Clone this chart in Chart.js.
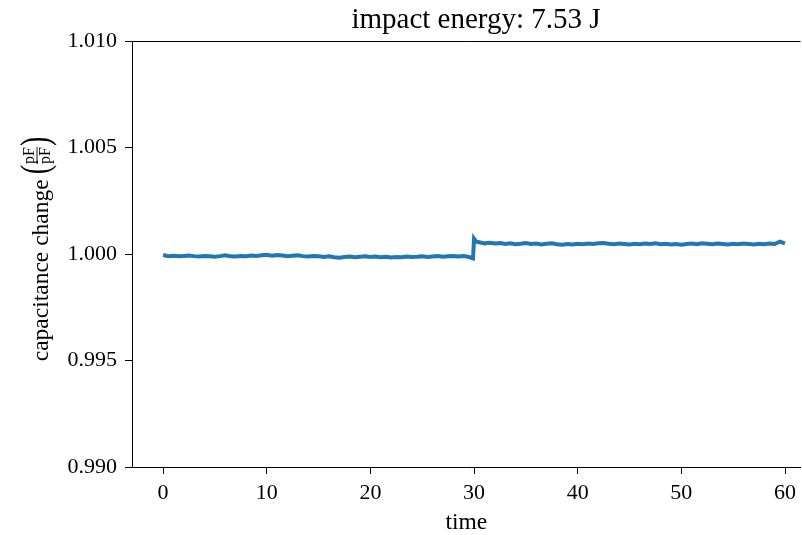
<!DOCTYPE html>
<html>
<head>
<meta charset="utf-8">
<script src="https://cdn.jsdelivr.net/npm/chart.js@4.4.1/dist/chart.umd.min.js"></script>
<style>
  html, body { margin: 0; padding: 0; background: #fff; }
  canvas { display: block; }
</style>
</head>
<body>
<canvas id="c" width="802" height="535"></canvas>
<script>
// ---- data ----
const chartTitle = 'impact energy: 7.53 J';
const xAxisLabel = 'time';
const yAxisLabel = 'capacitance change';
const yUnitNum = 'pF';
const yUnitDen = 'pF';

const times = [
  0, 0.5, 1, 1.5, 2, 2.5, 3, 3.5, 4, 4.5, 5, 5.5, 6, 6.5, 7, 7.5, 8, 8.5, 9, 9.5,
  10, 10.5, 11, 11.5, 12, 12.5, 13, 13.5, 14, 14.5, 15, 15.5, 16, 16.5, 17, 17.5, 18, 18.5, 19, 19.5,
  20, 20.5, 21, 21.5, 22, 22.5, 23, 23.5, 24, 24.5, 25, 25.5, 26, 26.5, 27, 27.5, 28, 28.5, 29, 29.5, 29.9,
  30.0, 30.2, 30.5, 31, 31.5, 32, 32.5, 33, 33.5, 34, 34.5, 35, 35.5, 36, 36.5, 37, 37.5, 38, 38.5, 39, 39.5,
  40, 40.5, 41, 41.5, 42, 42.5, 43, 43.5, 44, 44.5, 45, 45.5, 46, 46.5, 47, 47.5, 48, 48.5, 49, 49.5,
  50, 50.5, 51, 51.5, 52, 52.5, 53, 53.5, 54, 54.5, 55, 55.5, 56, 56.5, 57, 57.5, 58, 58.5, 59, 59.5, 60
];

const capacitance = [
  0.99995, 0.99990, 0.99992, 0.99989, 0.99991, 0.99993, 0.99990, 0.99988, 0.99991, 0.99989,
  0.99987, 0.99990, 0.99994, 0.99989, 0.99988, 0.99991, 0.99990, 0.99993, 0.99991, 0.99994,
  0.99996, 0.99992, 0.99995, 0.99993, 0.99990, 0.99992, 0.99994, 0.99990, 0.99988, 0.99991,
  0.99989, 0.99986, 0.99989, 0.99985, 0.99983, 0.99986, 0.99988, 0.99985, 0.99987, 0.99989,
  0.99986, 0.99988, 0.99985, 0.99987, 0.99984, 0.99986, 0.99985, 0.99988, 0.99986, 0.99987,
  0.99989, 0.99986, 0.99988, 0.99990, 0.99987, 0.99989, 0.99991, 0.99988, 0.99990, 0.99986, 0.99980,
  1.00072, 1.00058, 1.00055, 1.00050, 1.00053, 1.00049, 1.00051, 1.00047, 1.00050, 1.00046,
  1.00048, 1.00051, 1.00047, 1.00049, 1.00045, 1.00048, 1.00050, 1.00046, 1.00044, 1.00047, 1.00045,
  1.00048, 1.00046, 1.00049, 1.00047, 1.00050, 1.00052, 1.00048, 1.00046, 1.00049, 1.00047,
  1.00045, 1.00048, 1.00046, 1.00049, 1.00047, 1.00050, 1.00046, 1.00048, 1.00045, 1.00047,
  1.00044, 1.00047, 1.00049, 1.00046, 1.00050, 1.00048, 1.00046, 1.00049, 1.00047, 1.00045,
  1.00048, 1.00046, 1.00049, 1.00047, 1.00045, 1.00048, 1.00046, 1.00049, 1.00047, 1.00058, 1.00050
];

const xTicks = [0, 10, 20, 30, 40, 50, 60];
const yTicks = [0.990, 0.995, 1.000, 1.005, 1.010];

// ---- rendering ----
const FONT = '"Liberation Serif", "Times New Roman", serif';

const points = times.map((t, i) => ({ x: t, y: capacitance[i] }));

const bgPlugin = {
  id: 'bg',
  beforeDraw(chart) {
    const ctx = chart.ctx;
    ctx.save();
    ctx.fillStyle = '#fff';
    ctx.fillRect(0, 0, chart.width, chart.height);
    ctx.restore();
  }
};

const decorPlugin = {
  id: 'decor',
  afterDraw(chart) {
    const ctx = chart.ctx;
    const a = chart.chartArea;
    ctx.save();
    // top spine
    ctx.strokeStyle = '#000';
    ctx.lineWidth = 1;
    ctx.beginPath();
    const ty = Math.round(a.top) + 0.5;
    ctx.moveTo(a.left, ty);
    ctx.lineTo(a.right, ty);
    ctx.stroke();

    // title
    ctx.fillStyle = '#000';
    ctx.font = '29px ' + FONT;
    ctx.textAlign = 'center';
    ctx.textBaseline = 'alphabetic';
    ctx.fillText(chartTitle, 476, 28);

    // y-axis label with (pF/pF) fraction
    ctx.translate(48, 249);
    ctx.rotate(-Math.PI / 2);
    ctx.textAlign = 'left';
    ctx.font = '23.5px ' + FONT;
    const wMain = ctx.measureText(yAxisLabel).width;
    ctx.font = '16px ' + FONT;
    const wFrac = Math.max(ctx.measureText(yUnitNum).width, ctx.measureText(yUnitDen).width);
    ctx.font = '40px ' + FONT;
    const wParen = ctx.measureText('(').width * 0.7;
    const gap = 5;
    const total = wMain + gap + wParen * 2 + wFrac + 2;
    let x = -total / 2;
    ctx.font = '23.5px ' + FONT;
    ctx.fillText(yAxisLabel, x, 0);
    x += wMain + gap;
    ctx.save();
    ctx.translate(x, 0);
    ctx.scale(0.7, 1);
    ctx.font = '40px ' + FONT;
    ctx.fillText('(', 0, 0);
    ctx.restore();
    x += wParen + 1;
    ctx.font = '16px ' + FONT;
    ctx.textAlign = 'center';
    ctx.fillText(yUnitNum, x + wFrac / 2, -14.5);
    ctx.fillText(yUnitDen, x + wFrac / 2, 2);
    ctx.lineWidth = 0.9;
    ctx.beginPath();
    ctx.moveTo(x, -11);
    ctx.lineTo(x + wFrac, -11);
    ctx.stroke();
    x += wFrac + 1;
    ctx.textAlign = 'left';
    ctx.save();
    ctx.translate(x, 0);
    ctx.scale(0.7, 1);
    ctx.font = '40px ' + FONT;
    ctx.fillText(')', 0, 0);
    ctx.restore();
    ctx.restore();
  }
};

new Chart(document.getElementById('c'), {
  type: 'line',
  data: {
    datasets: [{
      data: points,
      borderColor: '#1f77b4',
      borderWidth: 4,
      pointRadius: 0,
      tension: 0,
      fill: false
    }]
  },
  options: {
    responsive: false,
    animation: false,
    devicePixelRatio: 1,
    layout: { padding: { top: 41, right: 0, left: 0, bottom: 0 } },
    plugins: {
      legend: { display: false },
      tooltip: { enabled: false },
      title: { display: false }
    },
    scales: {
      x: {
        type: 'linear',
        min: -3,
        max: 61.5,
        afterBuildTicks: s => { s.ticks = xTicks.map(v => ({ value: v })); },
        afterFit: s => { s.height = 68; },
        grid: { display: true, drawOnChartArea: false, drawTicks: true, tickLength: 7, color: '#000', tickColor: '#000', lineWidth: 1 },
        border: { display: true, color: '#000', width: 1 },
        ticks: { color: '#000', font: { family: FONT, size: 22 }, padding: 6, maxRotation: 0, autoSkip: false,
                 callback: v => String(v) },
        title: { display: true, text: xAxisLabel, color: '#000', font: { family: FONT, size: 23.5, lineHeight: 1.0 }, padding: { top: 0, bottom: 0 } }
      },
      y: {
        type: 'linear',
        min: 0.99,
        max: 1.01,
        afterBuildTicks: s => { s.ticks = yTicks.map(v => ({ value: v })); },
        afterFit: s => { s.width = 132; },
        grid: { display: true, drawOnChartArea: false, drawTicks: true, tickLength: 7, color: '#000', tickColor: '#000', lineWidth: 1 },
        border: { display: true, color: '#000', width: 1 },
        ticks: { color: '#000', font: { family: FONT, size: 22 }, padding: 8, autoSkip: false,
                 callback: v => Number(v).toFixed(3) }
      }
    }
  },
  plugins: [bgPlugin, decorPlugin]
});
</script>
</body>
</html>
